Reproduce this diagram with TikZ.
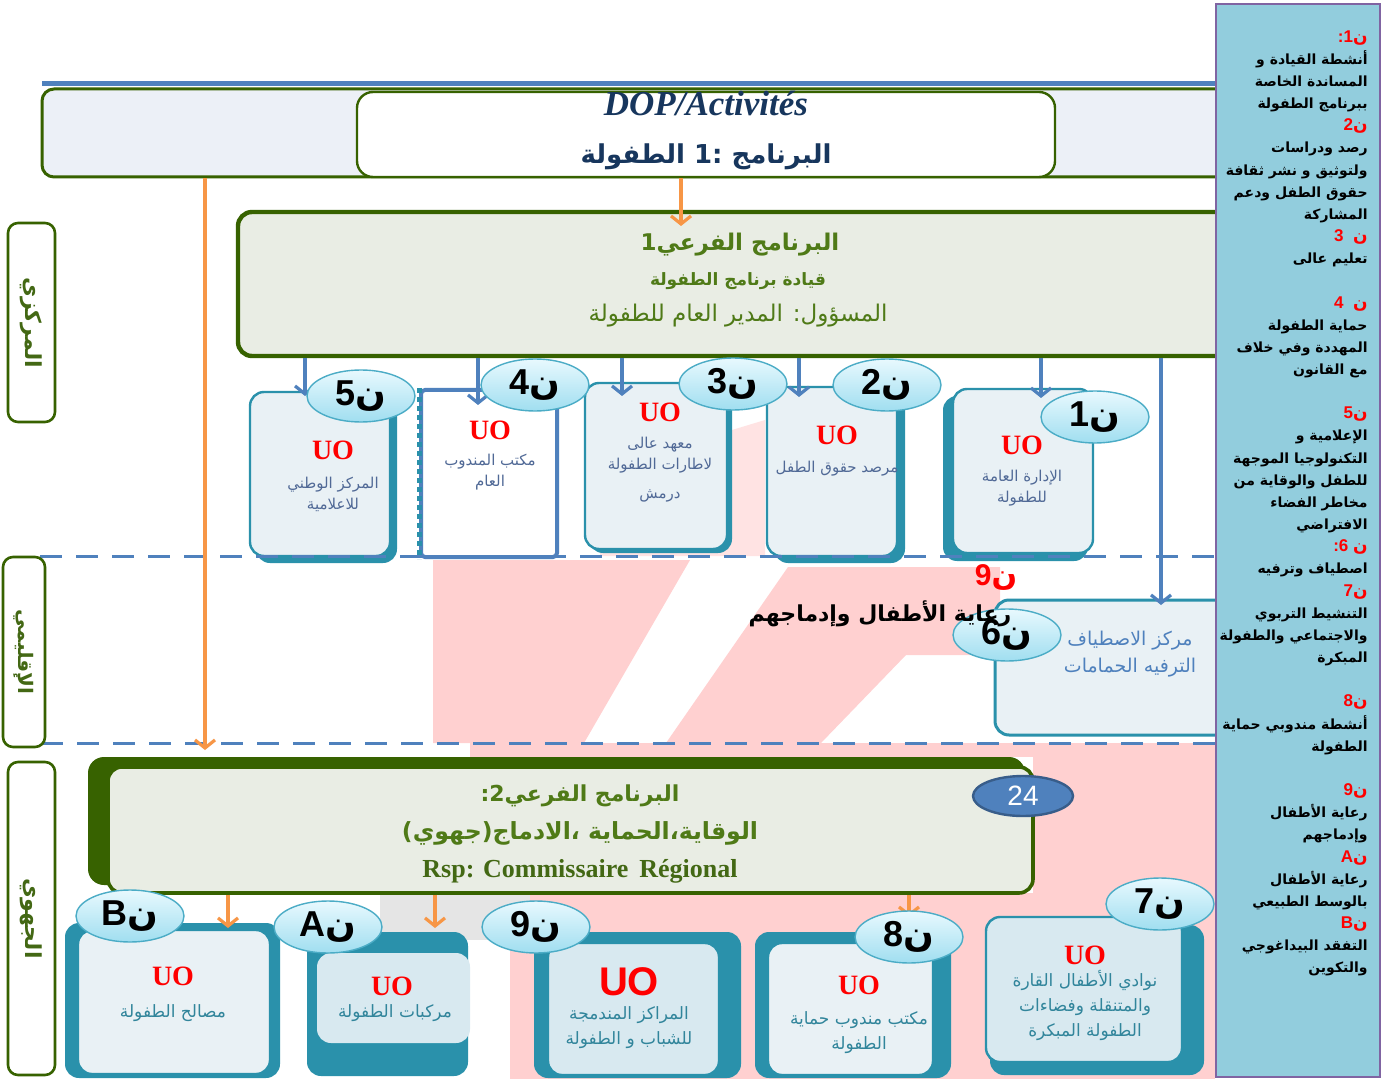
\documentclass[tikz,border=0pt]{standalone}
\usepackage{fontspec}
\setmainfont{Liberation Serif}
\setsansfont{Liberation Sans}
\newfontfamily\arabicfont[Script=Arabic]{DejaVu Sans}
\TeXXeTstate=1
\usetikzlibrary{shapes.geometric,arrows.meta,positioning,fit}
\definecolor{uoteal}{RGB}{42,145,171}
\definecolor{uolight}{RGB}{233,241,245}
\definecolor{uolightb}{RGB}{216,233,240}
\definecolor{linkblue}{RGB}{79,129,189}
\definecolor{progline}{RGB}{55,98,0}
\definecolor{progtext}{RGB}{79,122,23}
\definecolor{progfill}{RGB}{233,237,228}
\definecolor{linkorange}{RGB}{247,150,70}
\definecolor{panelblue}{RGB}{146,205,221}
\definecolor{panelline}{RGB}{128,100,162}
\definecolor{dopblue}{RGB}{23,54,93}
\definecolor{rowtext}{RGB}{80,105,150}
\definecolor{boxtext}{RGB}{49,133,155}
\definecolor{bubtop}{RGB}{232,249,254}
\definecolor{bubbot}{RGB}{160,222,240}
\definecolor{bubline}{RGB}{75,172,198}
\definecolor{ovalfill}{RGB}{79,129,189}
\definecolor{ovalline}{RGB}{56,93,138}
\definecolor{topfill}{RGB}{236,240,247}
\definecolor{pinkbg}{RGB}{255,208,208}
\newcommand\artxt[1]{{\arabicfont\beginR #1\endR}}
\newcommand\nn{{\arabicfont ن}}
\newcommand\nun[1]{\mbox{#1}\nn}
\newcommand\hd[1]{{\color{red}\sffamily\bfseries\fontsize{8.5}{11.08}\selectfont #1}}

\begin{document}
\begin{tikzpicture}[x=0.5pt,y=-0.5pt,>={Straight Barb[length=4pt,width=10pt]},
    uo back/.style={fill=uoteal,rounded corners=7pt,inner sep=0pt},
    uo front/.style={fill=uolight,draw=uoteal,line width=1.2pt,rounded corners=7pt,inner sep=0pt},
    prog box/.style={fill=progfill,draw=progline,line width=1.8pt,rounded corners=7pt,inner sep=0pt},
    level box/.style={fill=white,draw=progline,line width=1.3pt,rounded corners=5pt,inner sep=0pt},
    level text/.style={rotate=-90,text=progtext!85!black,font=\arabicfont\bfseries\fontsize{11}{11}\selectfont},
    bubble/.style={ellipse,draw=bubline,line width=0.7pt,top color=bubtop,bottom color=bubbot,
      minimum width=54pt,minimum height=26pt,inner sep=0pt,font=\sffamily\bfseries\fontsize{18}{18}\selectfont},
    uo/.style={text=red,font=\bfseries\fontsize{14}{14}\selectfont},
    row text/.style={text=rowtext,align=center,font=\arabicfont\fontsize{7.5}{10.5}\selectfont},
    box text/.style={text=boxtext,align=center,font=\arabicfont\fontsize{8.5}{12.5}\selectfont},
    prog text/.style={text=progtext,font=\arabicfont\bfseries\fontsize{11}{11}\selectfont},
    blue link/.style={->,draw=linkblue,line width=1.6pt},
    orange link/.style={->,draw=linkorange,line width=1.6pt},
    level line/.style={draw=linkblue,line width=1.5pt,dash pattern=on 11pt off 7pt}]

\useasboundingbox (0,0) rectangle (1384,1079);
\fill[white] (0,0) rectangle (1384,1079);

\fill[pinkbg] (433,560) -- (690,560) -- (584,743) -- (433,743) -- cycle;
\fill[pinkbg] (788,567) -- (1000,567) -- (1000,655) -- (906,655) -- (821,743) -- (666,743) -- cycle;
\fill[pinkbg!60] (600,470) -- (765,420) -- (765,556) -- (600,556) -- cycle;
\fill[pinkbg] (470,743) rectangle (1215,757);
\fill[pinkbg] (1033,757) rectangle (1215,900);
\fill[pinkbg] (510,893) rectangle (1215,1079);
\fill[gray!20] (380,893) rectangle (530,940);

\draw[linkblue,line width=2.5pt] (42,84) -- (1215,84);
\node[fit={(42,89)(1240,177)},fill=topfill,draw=progline,line width=1.5pt,rounded corners=6pt,inner sep=0pt] (dop) {};
\node[fit={(357,92)(1055,177)},fill=white,draw=progline,line width=1.2pt,rounded corners=8pt,inner sep=0pt] (prog1) {};
\node[text=dopblue,font=\bfseries\itshape\fontsize{17.5}{17.5}\selectfont] (doptitle) at (706,104) {DOP/Activités};
\node[text=dopblue,font=\arabicfont\bfseries\fontsize{13}{13}\selectfont] (prog1title) at (706,157) {\artxt{البرنامج :1 الطفولة}};

\node[prog box,line width=2.2pt,fit={(238,212)(1240,356)}] (sub1) {};
\node[prog text,font=\arabicfont\bfseries\fontsize{11.5}{11.5}\selectfont] (sub1title) at (740,245) {\artxt{البرنامج الفرعي1}};
\node[prog text,font=\arabicfont\bfseries\fontsize{8.5}{8.5}\selectfont] (sub1name) at (738,281) {\artxt{قيادة برنامج الطفولة}};
\node[prog text,font=\arabicfont\fontsize{11.5}{11.5}\selectfont] (sub1rsp) at (738,316) {\artxt{المسؤول: المدير العام للطفولة}};

\coordinate (o1) at (681,226);
\draw[orange link] (prog1.south -| o1) -- (o1);

\node[uo back,fit={(256,398)(397,563)}] (b5back) {};
\node[uo front,fit={(250,392)(390,556)}] (b5) {};
\node[fit={(421,390)(557,557)},fill=white,draw=linkblue,line width=2pt,inner sep=0pt,rounded corners=2pt] (b4) {};
\draw[uoteal,line width=2.5pt,dotted] (b4.north west) -- (b4.south west);
\node[uo back,fit={(589,387)(732,553)}] (b3back) {};
\node[uo front,fit={(585,383)(727,549)}] (b3) {};
\node[uo back,fit={(774,392)(905,563)}] (b2back) {};
\node[uo front,fit={(767,387)(897,556)}] (b2) {};
\node[uo back,fit={(943,396)(1088,561)}] (b1back) {};
\node[uo front,fit={(953,389)(1093,553)}] (b1) {};

\node[uo] (uo5) at (333,450) {UO};
\node[row text] (t5) at (333,494) {\artxt{المركز الوطني}\\\artxt{للاعلامية}};
\node[uo] (uo4) at (490,430) {UO};
\node[row text] (t4) at (490,472) {\artxt{مكتب المندوب}\\\artxt{العام}};
\node[uo] (uo3) at (660,412) {UO};
\node[row text] (t3) at (660,470) {\artxt{معهد عالى}\\\artxt{لاطارات الطفولة}\\[4pt]\artxt{درمش}};
\node[uo] (uo2) at (837,435) {UO};
\node[row text] (t2) at (837,469) {\artxt{مرصد حقوق الطفل}};
\node[uo] (uo1) at (1022,445) {UO};
\node[row text] (t1) at (1022,488) {\artxt{الإدارة العامة}\\\artxt{للطفولة}};

\node[uo front,fit={(995,600)(1240,735)},line width=1.5pt] (b6) {};
\node[text=linkblue,align=center,font=\arabicfont\fontsize{9.5}{13.5}\selectfont] (t6) at (1130,654) {\artxt{مركز الاصطياف}\\\artxt{الترفيه الحمامات}};

\coordinate (a5) at (305,396);
\coordinate (a4) at (478,405);
\coordinate (a3) at (622,396);
\coordinate (a2) at (799,397);
\coordinate (a1) at (1041,398);
\coordinate (a6) at (1161,605);
\foreach \a in {a5,a4,a3,a2,a1,a6}
  \draw[blue link] (sub1.south -| \a) -- (\a);

\node[bubble] (n5) at (361,396) {\nun{5}};
\node[bubble] (n4) at (535,385) {\nun{4}};
\node[bubble] (n3) at (733,384) {\nun{3}};
\node[bubble] (n2) at (887,385) {\nun{2}};
\node[bubble] (n1) at (1095,417) {\nun{1}};
\node[bubble] (n6) at (1007,635) {\nun{6}};

\node[text=red,font=\sffamily\bfseries\fontsize{15}{15}\selectfont] (h9) at (996,577) {\nun{9}};
\node[font=\arabicfont\bfseries\fontsize{11}{11}\selectfont] (t9mid) at (880,614) {\artxt{رعاية الأطفال وإدماجهم}};

\draw[level line] (40,556) -- (1215,556);
\draw[level line] (5,743) -- (1215,743);

\node[fit={(88,757)(1025,885)},fill=progline,rounded corners=8pt,inner sep=0pt] (sub2back) {};
\node[prog box,fit={(108,767)(1033,893)}] (sub2) {};
\node[prog text] (sub2title) at (580,796) {\artxt{البرنامج الفرعي2:}};
\node[prog text,font=\arabicfont\bfseries\fontsize{11.8}{11.8}\selectfont] (sub2name) at (580,833) {\artxt{الوقاية،الحماية ،الادماج(جهوي)}};
\node[text=progtext!85!black,font=\bfseries\fontsize{13}{13}\selectfont] (sub2rsp) at (580,871) {Rsp: Commissaire\, Régional};
\node[ellipse,fill=ovalfill,draw=ovalline,line width=1.2pt,minimum width=50pt,minimum height=20pt,inner sep=0pt,
  text=white,font=\sffamily\fontsize{14}{14}\selectfont] (n24) at (1023,796) {24};

\coordinate (o2) at (205,750);
\draw[orange link] (dop.south -| o2) -- (o2);

\node[uo back,fit={(65,923)(280,1078)}] (bBback) {};
\node[uo front,fit={(78,930)(270,1074)}] (bB) {};
\node[uo back,fit={(307,932)(468,1076)}] (bAback) {};
\node[uo front,fill=uolightb,draw=none,fit={(317,953)(470,1043)}] (bA) {};
\node[uo back,fit={(534,932)(741,1078)}] (b9back) {};
\node[uo front,fill=uolightb,fit={(548,943)(719,1075)}] (b9) {};
\node[uo back,fit={(755,932)(951,1078)}] (b8back) {};
\node[uo front,fit={(768,943)(933,1075)}] (b8) {};
\node[uo back,fit={(990,925)(1204,1075)}] (b7back) {};
\node[uo front,fill=uolightb,fit={(986,917)(1182,1062)}] (b7) {};

\coordinate (oB) at (228,928);
\coordinate (oA) at (435,928);
\coordinate (o8) at (909,917);
\foreach \o in {oB,oA,o8}
  \draw[orange link] (sub2.south -| \o) -- (\o);

\node[uo] (uoB) at (173,976) {UO};
\node[box text] (tB) at (173,1013) {\artxt{مصالح الطفولة}};
\node[uo] (uoA) at (392,986) {UO};
\node[box text] (tA) at (395,1013) {\artxt{مركبات الطفولة}};
\node[uo,font=\sffamily\bfseries\fontsize{20}{20}\selectfont] (uo9) at (629,982) {UO};
\node[box text] (t9) at (629,1028) {\artxt{المراكز المندمجة}\\\artxt{للشباب و الطفولة}};
\node[uo] (uo8) at (859,985) {UO};
\node[box text] (t8) at (859,1033) {\artxt{مكتب مندوب حماية}\\\artxt{الطفولة}};
\node[uo] (uo7) at (1085,955) {UO};
\node[box text] (t7) at (1085,1005) {\artxt{نوادي الأطفال القارة}\\\artxt{والمتنقلة وفضاءات}\\\artxt{الطفولة المبكرة}};

\node[bubble] (nB) at (130,916) {\nun{B}};
\node[bubble] (nA) at (328,927) {\nun{A}};
\node[bubble] (n9) at (536,927) {\nun{9}};
\node[bubble] (n8) at (909,937) {\nun{8}};
\node[bubble] (n7) at (1160,904) {\nun{7}};

\node[level box,fit={(8,223)(55,422)}] (lcentral) {};
\node[level text] at (lcentral.center) {\artxt{المركزي}};
\node[level box,fit={(3,557)(45,747)}] (lregion) {};
\node[level text,font=\arabicfont\bfseries\fontsize{10}{10}\selectfont] at (lregion.center) {\artxt{الإقليمي}};
\node[level box,fit={(8,762)(55,1075)}] (llocal) {};
\node[level text] at (llocal.center) {\artxt{الجهوي}};

\node[fit={(1216,4)(1380,1077)},fill=panelblue,draw=panelline,line width=1.2pt,inner sep=0pt] (panel) {};
\node[anchor=north east,align=right,inner sep=0pt,font=\arabicfont\bfseries\fontsize{7}{11.08}\selectfont] (legend) at (1368,30) {%
\hd{:1\nn}\\
\artxt{أنشطة القيادة و}\\
\artxt{المساندة  الخاصة}\\
\artxt{ببرنامج الطفولة}\\
\hd{2\nn}\\
\artxt{رصد ودراسات}\\
\artxt{ولتوثيق و نشر ثقافة}\\
\artxt{حقوق الطفل ودعم}\\
\artxt{المشاركة}\\
\hd{3\ \ \nn}\\
\artxt{تعليم عالى}\\[11.08pt]
\hd{4\ \ \nn}\\
\artxt{حماية الطفولة}\\
\artxt{المهددة  وفي خلاف}\\
\artxt{مع القانون}\\[11.08pt]
\hd{5\nn}\\
\artxt{الإعلامية و}\\
\artxt{التكنولوجيا  الموجهة}\\
\artxt{للطفل والوقاية من}\\
\artxt{مخاطر الفضاء}\\
\artxt{الافتراضي}\\
\hd{:6 \nn}\\
\artxt{اصطياف وترفيه}\\
\hd{7\nn}\\
\artxt{التنشيط التربوي}\\
\artxt{والاجتماعي والطفولة}\\
\artxt{المبكرة}\\[11.08pt]
\hd{8\nn}\\
\artxt{أنشطة مندوبي حماية}\\
\artxt{الطفولة}\\[11.08pt]
\hd{9\nn}\\
\artxt{رعاية الأطفال}\\
\artxt{وإدماجهم}\\
\hd{A\nn}\\
\artxt{رعاية الأطفال}\\
\artxt{بالوسط الطبيعي}\\
\hd{B\nn}\\
\artxt{التفقد  البيداغوجي}\\
\artxt{والتكوين}};

\end{tikzpicture}
\end{document}
